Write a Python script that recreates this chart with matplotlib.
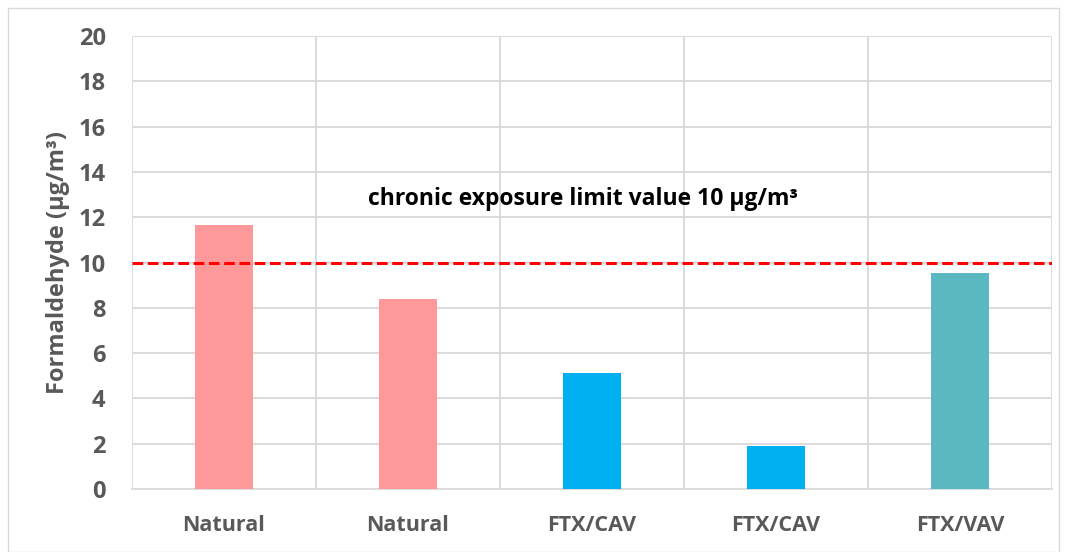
import matplotlib.pyplot as plt
from matplotlib.patches import Rectangle

categories = ["Natural", "Natural", "FTX/CAV", "FTX/CAV", "FTX/VAV"]
formaldehyde = [11.65, 8.4, 5.1, 1.9, 9.55]
bar_colors = ["#FF9999", "#FF9999", "#00B0F0", "#00B0F0", "#5BB8C0"]
limit_value = 10
yticks = list(range(0, 21, 2))

plt.rcParams['font.family'] = ['Open Sans', 'DejaVu Sans']
plt.rcParams['font.weight'] = 'bold'

fig = plt.figure(figsize=(10.67, 5.52), dpi=100)
fig.patches.append(Rectangle((8 / 1067, 0.0), 1 - 16 / 1067, 1 - 8 / 552,
                             transform=fig.transFigure, fill=False,
                             edgecolor="#D9D9D9", linewidth=1))
ax = fig.add_axes([132 / 1067, 1 - 489 / 552, 920 / 1067, 453 / 552])

x = range(len(categories))
ax.bar(x, formaldehyde, width=0.315, color=bar_colors, zorder=3)
ax.axhline(limit_value, color="red", linestyle=(0, (3.5, 1.5)), linewidth=2.2, zorder=4)
ax.text(1.95, 12.8, "chronic exposure limit value 10 µg/m³",
        ha="center", va="center", fontsize=16.5, fontweight="bold", color="black", zorder=5)

ax.set_xlim(-0.5, len(categories) - 0.5)
ax.set_ylim(0, 20)
ax.set_yticks(yticks)
ax.set_xticks(list(x))
ax.set_xticklabels(categories)
ax.set_xticks([i + 0.5 for i in range(-1, len(categories))], minor=True)
ax.grid(axis="y", color="#D9D9D9", linewidth=1.3, zorder=0)
ax.grid(axis="x", which="minor", color="#D9D9D9", linewidth=1.3, zorder=0)
ax.tick_params(axis="both", which="both", length=0, labelcolor="#595959")
ax.tick_params(axis="x", labelsize=15.5, pad=19)
ax.tick_params(axis="y", labelsize=17, pad=19)
for s in ["top", "right", "left"]:
    ax.spines[s].set_visible(False)
ax.spines["bottom"].set_color("#D9D9D9")
ax.spines["bottom"].set_linewidth(1.3)

ax.set_ylabel("Formaldehyde (µg/m³)", fontsize=17, fontweight="bold",
              color="#595959", labelpad=6)

fig.savefig("out.png", dpi=100)
